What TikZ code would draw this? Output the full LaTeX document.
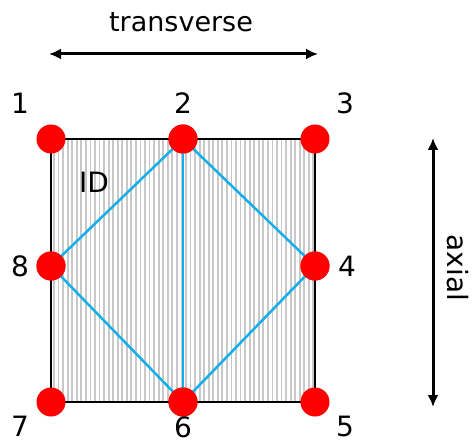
\documentclass[tikz,border=0pt]{standalone}
\usepackage{fontspec}
\setmainfont{DejaVu Sans}
\usetikzlibrary{arrows.meta}
\definecolor{dotred}{RGB}{255,0,0}
\definecolor{linkblue}{RGB}{20,175,235}
\definecolor{hatch}{RGB}{200,200,200}
\begin{document}
\begin{tikzpicture}[x=1pt,y=-1pt,
  dot/.style={circle,fill=dotred,inner sep=0pt,minimum size=29pt},
  lab/.style={font=\fontsize{28}{32}\selectfont,inner sep=0pt},
  link/.style={draw=linkblue,line width=2.5pt},
  dimarrow/.style={draw=black,line width=3pt,{Latex[length=12pt,width=11pt]}-{Latex[length=12pt,width=11pt]}}]
\useasboundingbox (0,0) rectangle (473,443);
% hatched square
\fill[white] (51,139) rectangle (315,402);
\foreach \i in {0,...,57} {
  \draw[hatch,line width=1.8pt] ({54+\i*4.55},139) -- ({54+\i*4.55},402);
}
\draw[black,line width=2pt] (51,139) rectangle (315,402);
% nodes
\node[dot] (n1) at (51,139) {};
\node[dot] (n2) at (183,139) {};
\node[dot] (n3) at (315,139) {};
\node[dot] (n4) at (315,266) {};
\node[dot] (n5) at (315,402) {};
\node[dot] (n6) at (183,402) {};
\node[dot] (n7) at (51,402) {};
\node[dot] (n8) at (51,266) {};
% links
\draw[link] (n2.center) -- (n8.center);
\draw[link] (n2.center) -- (n4.center);
\draw[link] (n2.center) -- (n6.center);
\draw[link] (n8.center) -- (n6.center);
\draw[link] (n4.center) -- (n6.center);
% redraw dots on top
\foreach \p in {n2,n4,n6,n8} {
  \fill[dotred] (\p) circle (14.5pt);
}
% labels
\node[lab] (l1) at (20,103) {1};
\node[lab] (l2) at (183,103) {2};
\node[lab] (l3) at (345,103) {3};
\node[lab] (l4) at (347,266) {4};
\node[lab] (l5) at (345,426) {5};
\node[lab] (l6) at (183,427) {6};
\node[lab] (l7) at (20,426) {7};
\node[lab] (l8) at (20,266) {8};
\node[lab] (id) at (94,182) {ID};
% dimension arrows
\coordinate (tL) at (49,54);
\coordinate (tR) at (318,54);
\draw[dimarrow] (tL) -- (tR);
\node[lab,font=\fontsize{27}{32}\selectfont] (trans) at (181,22) {transverse};
\coordinate (aT) at (433,138);
\coordinate (aB) at (433,407);
\draw[dimarrow] (aT) -- (aB);
\node[lab,rotate=-90] (axial) at (458,268) {axial};
\end{tikzpicture}
\end{document}
